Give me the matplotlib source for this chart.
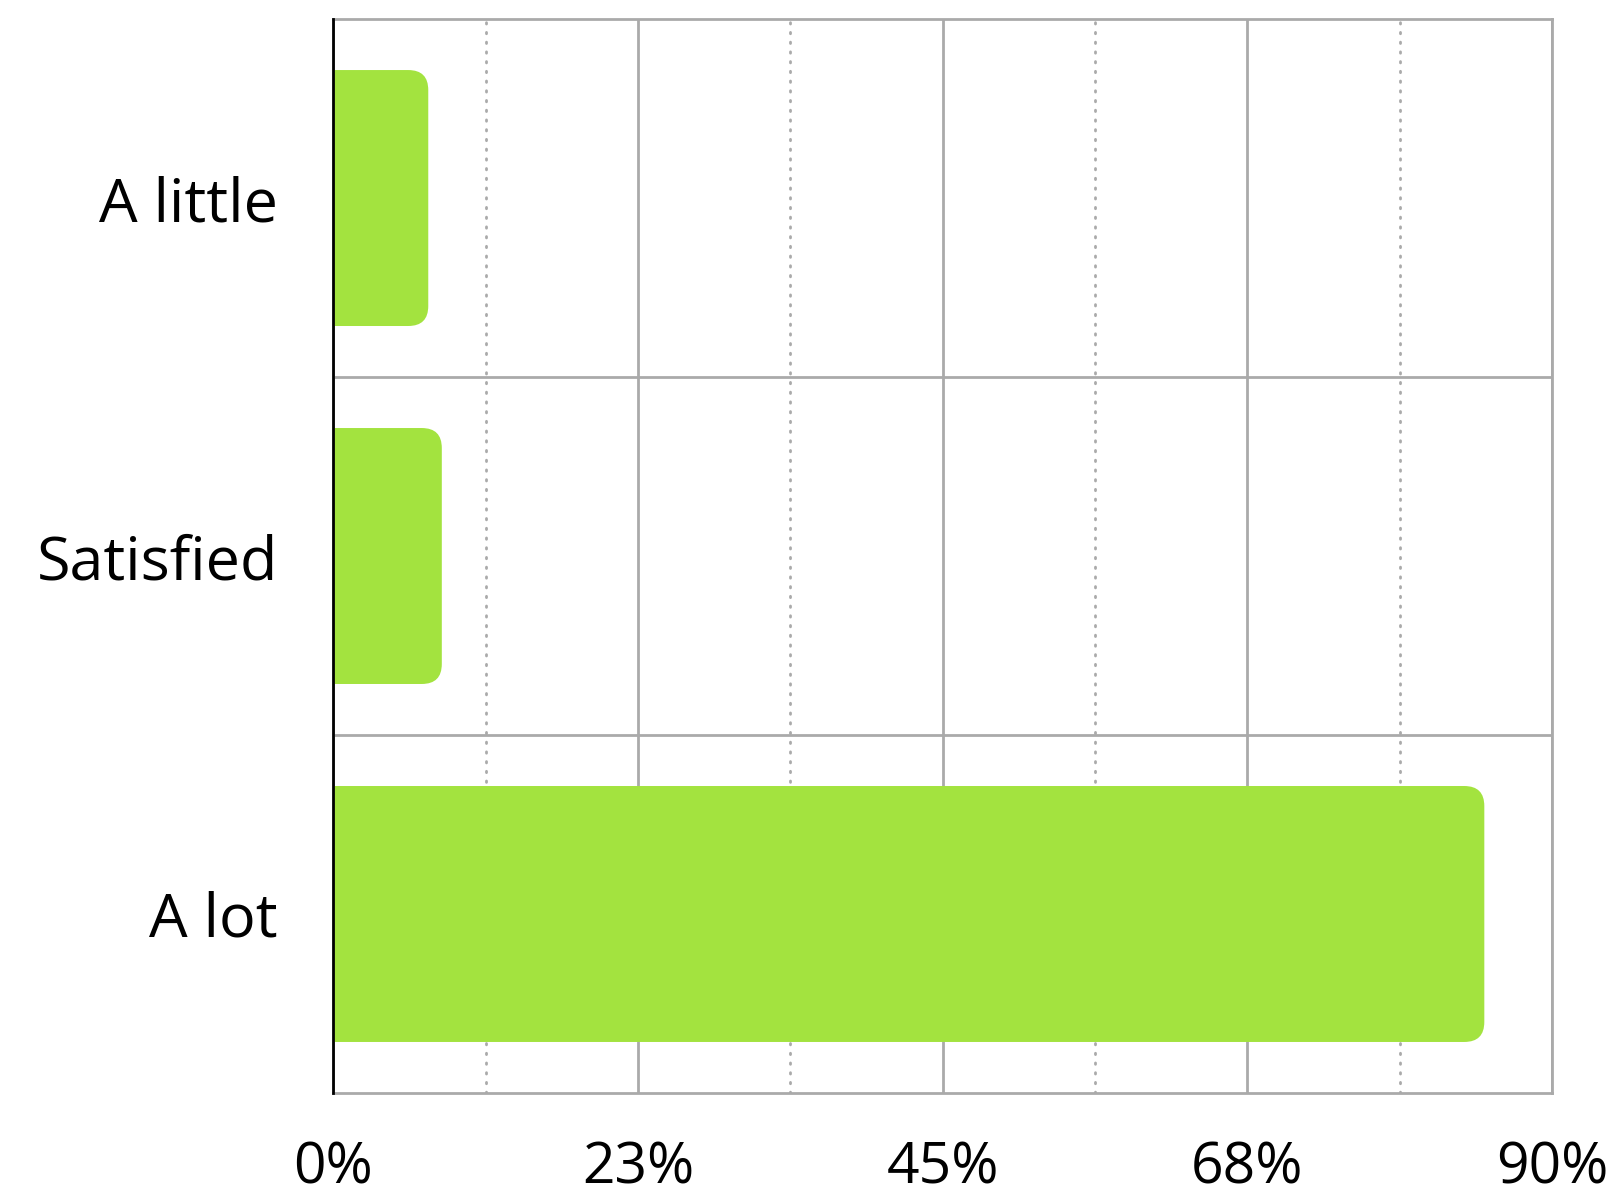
import matplotlib
matplotlib.use("Agg")
import matplotlib.pyplot as plt
from matplotlib.patches import FancyBboxPatch
from matplotlib.ticker import FixedLocator

plt.rcParams['font.family'] = ['Open Sans', 'DejaVu Sans']

categories = ["A little", "Satisfied", "A lot"]
values = [7, 8, 85]
xticks = [0, 22.5, 45, 67.5, 90]
xticklabels = ["0%", "23%", "45%", "68%", "90%"]
minor_ticks = [11.25, 33.75, 56.25, 78.75]

W, H, DPI = 16.15, 11.97, 100
fig = plt.figure(figsize=(W, H), dpi=DPI)
ax = fig.add_axes([0.2065, 0.0869, 0.961 - 0.2065, 0.9841 - 0.0869])

xmin, xmax = 0, 90
n = len(categories)
ax.set_xlim(xmin, xmax)
ax.set_ylim(-0.5, n - 0.5)

bar_color = "#A3E33F"
grid_color = "#AAAAAA"

ax_w_px = W * DPI * (0.961 - 0.2065)
ax_h_px = H * DPI * (0.9841 - 0.0869)
x_per_px = (xmax - xmin) / ax_w_px
y_per_px = n / ax_h_px
aspect = y_per_px / x_per_px
r_px = 20
bar_h = 0.715

ypos = [n - 1 - i for i in range(n)]
for y, v in zip(ypos, values):
    ext = 3 * r_px * x_per_px
    p = FancyBboxPatch((xmin - ext, y - bar_h / 2), v + ext, bar_h,
                       boxstyle=f"round,pad=0,rounding_size={r_px * x_per_px}",
                       mutation_aspect=aspect,
                       facecolor=bar_color, edgecolor="none", zorder=3)
    ax.add_patch(p)

for xt in xticks:
    ax.axvline(xt, color=grid_color, lw=2, zorder=1)
for xm in minor_ticks:
    ax.axvline(xm, color=grid_color, lw=2, ls=(0, (0.5, 3)), dash_capstyle='round', zorder=1)
for b in [0.5 + i for i in range(n - 1)]:
    ax.axhline(b, color=grid_color, lw=2, zorder=1)

ax.set_yticks(ypos)
ax.set_yticklabels(categories)
ax.xaxis.set_major_locator(FixedLocator(xticks))
ax.set_xticklabels(xticklabels)
ax.tick_params(axis='both', length=0, colors='black')
ax.tick_params(axis='x', pad=34, labelsize=41)
ax.tick_params(axis='y', pad=40, labelsize=44)

for s in ['top', 'right', 'bottom']:
    ax.spines[s].set_color(grid_color)
    ax.spines[s].set_linewidth(2)
ax.spines['left'].set_color('black')
ax.spines['left'].set_linewidth(2)
ax.spines['left'].set_zorder(5)

fig.savefig("out.png", dpi=DPI, facecolor="white")
